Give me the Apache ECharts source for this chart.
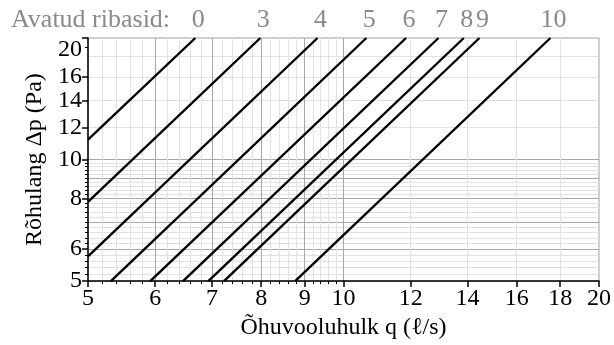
<!DOCTYPE html>
<html>
<head>
<meta charset="utf-8">
<script src="https://cdn.jsdelivr.net/npm/echarts@6/dist/echarts.min.js"></script>
<style>
  html, body { margin: 0; padding: 0; background: #fff; }
  #chart { width: 614px; height: 345px; }
</style>
</head>
<body>
<div id="chart"></div>
<script>
"use strict"

// open vents (avatud ribasid) -> straight lines on log-log, read at plot edges
const ribaNames = ["0", "3", "4", "5", "6", "7", "8", "9", "10"];
const qStart = [5, 5, 5, 5.32, 5.92, 6.47, 6.93, 7.23, 8.77];
const pStart = [11.2, 7.86, 5.76, 5, 5, 5, 5, 5, 5];
const qEnd = [6.69, 7.98, 9.32, 10.64, 11.85, 12.94, 13.86, 14.46, 17.53];
const pEnd = [20, 20, 20, 20, 20, 20, 20, 20, 20];

// ticks / grid
const xLabels = [5, 6, 7, 8, 9, 10, 12, 14, 16, 18, 20];
const yLabels = [5, 6, 8, 10, 12, 14, 16, 20];
const minorSteps = [5.2, 5.4, 5.6, 5.8, 6.2, 6.4, 6.6, 6.8, 7.2, 7.4, 7.6, 7.8,
                    8.2, 8.4, 8.6, 8.8, 9.2, 9.4, 9.6, 9.8];
const xMinorTicks = minorSteps;
const yMinorTicks = minorSteps.concat([7, 9, 19]);
const lightGrid = minorSteps.concat([12, 14, 16, 18]);
const darkGrid = [6, 7, 8, 9, 10];

const serif = "'Liberation Serif', 'DejaVu Serif', serif";
const LIGHT = "#e2e2e2", DARK = "#a8a8a8", LABELGRAY = "#8a8a8a";
const FS = 24, TOPFS = 26;

function logAxis(extra)
{
    return Object.assign({
        type: "log", logBase: 10, min: 5, max: 20,
        axisLine: { show: false },
        axisTick: { show: false },
        axisLabel: { show: false },
        splitLine: { show: false },
        minorTick: { show: false },
        minorSplitLine: { show: false }
    }, extra);
}

function gridAxis(vals, color)
{
    return logAxis({
        axisTick: { show: false, customValues: vals },
        splitLine: { show: true, lineStyle: { color: color, width: 1 } }
    });
}

const xAxes = [
    logAxis({
        position: "bottom",
        name: "Õhuvooluhulk q (ℓ/s)",
        nameLocation: "middle",
        nameGap: 29,
        nameTextStyle: { fontFamily: serif, fontSize: FS, color: "#000" },
        axisLine: { show: true, lineStyle: { color: "#000", width: 1.5 } },
        axisTick: { show: true, customValues: xLabels, length: 6, lineStyle: { color: "#000", width: 1.5 } },
        axisLabel: { show: true, customValues: xLabels, margin: 6, fontFamily: serif, fontSize: FS, color: "#000" }
    }),
    logAxis({
        position: "bottom",
        axisTick: { show: true, customValues: xMinorTicks, length: 3, lineStyle: { color: "#000", width: 1 } }
    }),
    gridAxis(lightGrid, LIGHT),
    gridAxis(darkGrid, DARK)
];

const yAxes = [
    logAxis({
        position: "left",
        name: "Rõhulang Δp (Pa)",
        nameLocation: "middle",
        nameGap: 41,
        nameTextStyle: { fontFamily: serif, fontSize: FS, color: "#000" },
        axisLine: { show: true, lineStyle: { color: "#000", width: 1.5 } },
        axisTick: { show: true, customValues: yLabels, length: 6, lineStyle: { color: "#000", width: 1.5 } },
        axisLabel: {
            show: true, customValues: yLabels, margin: 6, fontFamily: serif, fontSize: FS, color: "#000",
            verticalAlignMaxLabel: "top"
        }
    }),
    logAxis({
        position: "left",
        axisTick: { show: true, customValues: yMinorTicks, length: 3, lineStyle: { color: "#000", width: 1 } }
    }),
    gridAxis(lightGrid, LIGHT),
    gridAxis(darkGrid, DARK)
];

const series = ribaNames.map((name, i) => ({
    type: "line",
    name: name,
    xAxisIndex: 0,
    yAxisIndex: 0,
    showSymbol: true,
    symbolSize: 0,
    silent: true,
    lineStyle: { color: "#000", width: 2.4 },
    data: [
        [qStart[i], pStart[i]],
        {
            value: [qEnd[i], pEnd[i]],
            label: {
                show: true, position: "top", distance: 5, offset: [3, 0], formatter: name,
                fontFamily: serif, fontSize: TOPFS, color: LABELGRAY
            }
        }
    ],
    z: 5
}));

const myChart = echarts.init(document.getElementById("chart"), null, { renderer: "canvas" });
myChart.setOption({
    animation: false,
    backgroundColor: "#fff",
    title: {
        text: "Avatud ribasid:",
        left: 6, top: 2,
        textStyle: { fontFamily: serif, fontSize: TOPFS, fontWeight: "normal", color: LABELGRAY }
    },
    grid: {
        left: 88, right: 13, top: 38, bottom: 62,
        show: true, borderColor: "#a0a0a0", borderWidth: 1, backgroundColor: "transparent"
    },
    xAxis: xAxes,
    yAxis: yAxes,
    series: series
});
</script>
</body>
</html>
